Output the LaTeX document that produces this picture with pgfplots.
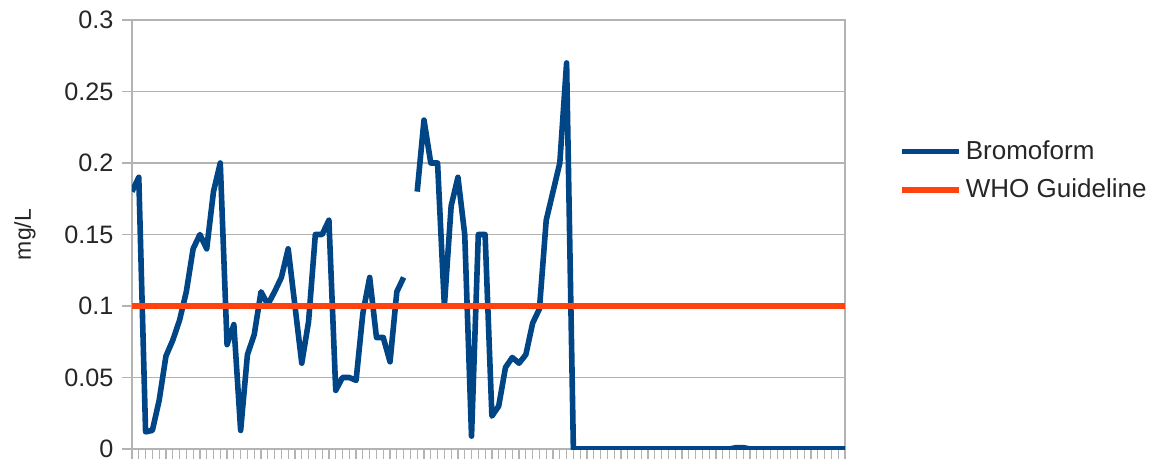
\documentclass[border=0pt]{standalone}
\usepackage{fontspec}
\setmainfont{Liberation Sans}
\usepackage{pgfplots}
\pgfplotsset{compat=1.18}
\usepackage{pgfplotstable}
\definecolor{bromoc}{HTML}{004586}
\definecolor{whoc}{HTML}{FF420E}
\definecolor{gridc}{HTML}{B3B3B3}
\pgfplotstableread{
i v
0 0.18
1 0.19
2 0.012
3 0.013
4 0.034
5 0.065
6 0.076
7 0.09
8 0.11
9 0.14
10 0.15
11 0.14
12 0.18
13 0.2
14 0.073
15 0.087
16 0.013
17 0.066
18 0.08
19 0.11
20 0.101
21 0.11
22 0.12
23 0.14
24 0.1
25 0.06
26 0.089
27 0.15
28 0.15
29 0.16
30 0.041
31 0.05
32 0.05
33 0.048
34 0.095
35 0.12
36 0.078
37 0.078
38 0.061
39 0.11
40 0.12
41 nan
42 0.18
43 0.23
44 0.2
45 0.2
46 0.1
47 0.17
48 0.19
49 0.15
50 0.009
51 0.15
52 0.15
53 0.023
54 0.03
55 0.057
56 0.064
57 0.06
58 0.066
59 0.088
60 0.098
61 0.16
62 0.18
63 0.2
64 0.27
65 0
66 0
67 0
68 0
69 0
70 0
71 0
72 0
73 0
74 0
75 0
76 0
77 0
78 0
79 0
80 0
81 0
82 0
83 0
84 0
85 0
86 0
87 0
88 0
89 0.001
90 0.001
91 0
92 0
93 0
94 0
95 0
96 0
97 0
98 0
99 0
100 0
101 0
102 0
103 0
104 0
105 0
}\bromotable
\pgfplotstableread{
i v
0 0.1
105 0.1
}\whotable
\begin{document}
\begin{tikzpicture}
\path[use as bounding box] (-66pt,-7pt) rectangle (514pt,224.5pt);
\begin{axis}[
  at={(0pt,0pt)}, anchor=south west,
  scale only axis, width=356.5pt, height=214.5pt,
  xmin=0, xmax=105, ymin=0, ymax=0.3,
  xtick={0,...,105}, xticklabels={},
  ytick={0,0.05,0.1,0.15,0.2,0.25,0.3},
  yticklabels={0,0.05,0.1,0.15,0.2,0.25,0.3},
  ymajorgrids, grid style={gridc, line width=0.6pt},
  axis line style={gridc, line width=0.6pt},
  tick style={gridc, line width=0.6pt},
  tick align=outside, major tick length=5pt,
  xtick pos=bottom, ytick pos=left,
  ticklabel style={font=\fontsize{12.6}{15}\selectfont, text=black!85},
  yticklabel style={xshift=-0.8pt},
  ylabel={mg/L},
  ylabel style={font=\fontsize{11.5}{13}\selectfont, text=black!85, at={(axis description cs:-0.150,0.5)}, anchor=center},
  unbounded coords=jump,
  legend style={at={(rel axis cs:1.075,0.649)}, anchor=west, draw=none, fill=none,
    font=\fontsize{13}{15}\selectfont, text=black!85, row sep=4.3pt, inner sep=0pt},
  legend cell align=left,
  legend image code/.code={\draw[#1] (0pt,0pt) -- (28.5pt,0pt);},
]
\addplot[bromoc, line width=2.8pt, line join=round] table[x=i, y=v] {\bromotable};
\addlegendentry{Bromoform}
\addplot[whoc, line width=3pt] table[x=i, y=v] {\whotable};
\addlegendentry{WHO Guideline}
\end{axis}
\end{tikzpicture}
\end{document}
